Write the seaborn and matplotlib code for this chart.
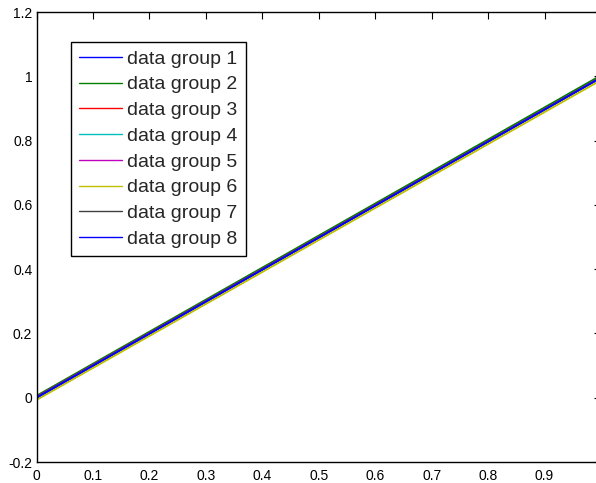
import numpy as np
import pandas as pd
import seaborn as sns
import matplotlib.pyplot as plt
from matplotlib.ticker import FormatStrFormatter

# endpoints of each group's line (x shared by all groups)
x_vals = [0.0, 1.0]
groups = ['data group %d' % i for i in range(1, 9)]
y_vals = [
    [0.000, 0.996],
    [0.006, 1.003],
    [0.002, 0.997],
    [0.001, 0.996],
    [0.002, 0.997],
    [-0.007, 0.988],
    [0.001, 0.996],
    [0.000, 0.996],
]
# MATLAB default line colours
colors = ['#0000ff', '#008000', '#ff0000', '#00bfbf',
          '#bf00bf', '#bfbf00', '#404040', '#0000ff']

rows = []
for g, ys in zip(groups, y_vals):
    for x, y in zip(x_vals, ys):
        rows.append({'x': x, 'y': y, 'group': g})
df = pd.DataFrame(rows)

sns.set_style('white')
plt.rcParams['font.family'] = ['Liberation Sans', 'DejaVu Sans']

fig = plt.figure(figsize=(5.96, 4.83), dpi=100)
# right spine sits just past the image edge, as in the reference
ax = fig.add_axes([36.5 / 596, 21 / 483, 564.5 / 596, 450 / 483])

sns.lineplot(data=df, x='x', y='y', hue='group', palette=colors,
             linewidth=1.3, ax=ax, legend=True)

ax.set_xlim(0, 1)
ax.set_ylim(-0.2, 1.2)
ax.set_xticks(np.arange(0, 0.95, 0.1))
ax.set_yticks(np.arange(-0.2, 1.25, 0.2))
ax.xaxis.set_major_formatter(FormatStrFormatter('%g'))
ax.yaxis.set_major_formatter(plt.FuncFormatter(lambda v, p: '%g' % round(v, 1)))
ax.tick_params(direction='in', length=5, width=0.8, top=True, right=True,
               labelsize=10, colors='black', pad=3)
ax.tick_params(axis='x', pad=5)
for s in ax.spines.values():
    s.set_color('black')
    s.set_linewidth(1)
ax.set_xlabel('')
ax.set_ylabel('')

leg = ax.legend(loc='upper left', bbox_to_anchor=(34.5 / 564.5, 0.933), borderaxespad=0,
                fontsize=14, frameon=True, fancybox=False, framealpha=1,
                edgecolor='black', handlelength=2.2, handletextpad=0.3,
                labelspacing=0.42, borderpad=0.4)
leg.get_frame().set_linewidth(1)
for h in leg.get_lines():
    h.set_linewidth(1)

fig.savefig('out.png', dpi=100)
